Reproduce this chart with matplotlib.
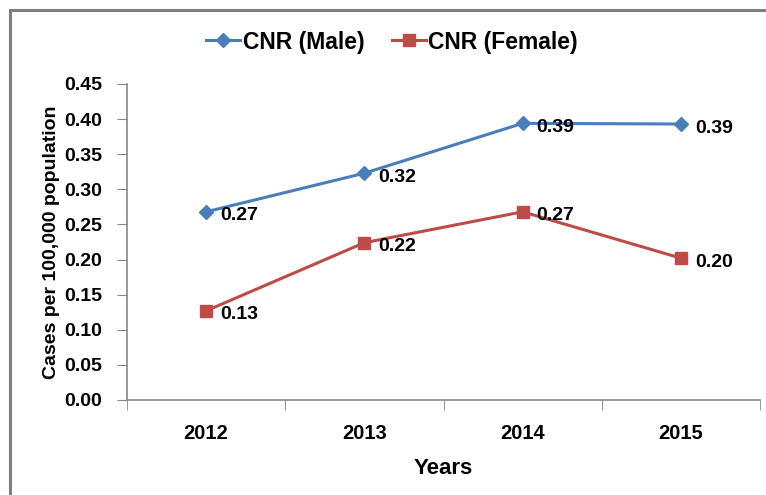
import matplotlib as mpl
mpl.use('Agg')
import matplotlib.pyplot as plt
from matplotlib.patches import Rectangle
import numpy as np

plt.rcParams['font.family'] = ['Liberation Sans', 'DejaVu Sans']
plt.rcParams['font.weight'] = 'bold'

years = ['2012', '2013', '2014', '2015']
male = [0.268, 0.323, 0.394, 0.393]
female = [0.127, 0.224, 0.268, 0.202]
male_lbl = ['0.27', '0.32', '0.39', '0.39']
female_lbl = ['0.13', '0.22', '0.27', '0.20']

W, H = 766, 495
fig = plt.figure(figsize=(W / 100, H / 100), dpi=100)
ax = fig.add_axes([127 / W, 1 - 400 / H, (760 - 127) / W, (400 - 84) / H])

# outer frame (only top and left visible in reference)
fig.patches.append(Rectangle((10 / W, -0.1), 1.2, (H - 10) / H + 0.1, transform=fig.transFigure,
                             fill=False, edgecolor='#7f7f7f', linewidth=2.2))

x = np.arange(len(years))
blue = '#4a7ebb'
red = '#be4b48'
ax.plot(x, male, color=blue, lw=2.2, marker='D', ms=7, label='CNR (Male)')
ax.plot(x, female, color=red, lw=2.2, marker='s', ms=8.5, label='CNR (Female)')

for xi, v, t in zip(x, male, male_lbl):
    ax.annotate(t, (xi, v), xytext=(10, -3), textcoords='offset points',
                ha='left', va='center', fontsize=14, fontweight='bold')
for xi, v, t in zip(x, female, female_lbl):
    ax.annotate(t, (xi, v), xytext=(10, -3), textcoords='offset points',
                ha='left', va='center', fontsize=14, fontweight='bold')

ax.set_xlim(-0.5, 3.5)
ax.set_ylim(0, 0.45)
ax.set_yticks(np.arange(0, 0.451, 0.05))
ax.set_yticklabels(['%.2f' % v for v in np.arange(0, 0.451, 0.05)], fontsize=14, fontweight='bold')
ax.set_xticks(x)
ax.set_xticklabels(years, fontsize=14.5, fontweight='bold')
ax.set_xticks(np.arange(-0.5, 3.6, 1), minor=True)
ax.tick_params(axis='x', which='major', length=0, pad=17)
ax.tick_params(axis='x', which='minor', length=7, color='#868686', direction='out')
ax.tick_params(axis='y', length=7, color='#868686', direction='out', pad=11)

for s in ['top', 'right']:
    ax.spines[s].set_visible(False)
for s in ['left', 'bottom']:
    ax.spines[s].set_color('#868686')
    ax.spines[s].set_linewidth(1.2)

ax.set_ylabel('Cases per 100,000 population', fontsize=14, fontweight='bold', labelpad=3)
ax.set_xlabel('Years', fontsize=16, fontweight='bold', labelpad=11)

fig.legend(loc='center', bbox_to_anchor=(0.5 + 9 / W, 1 - 42 / H), ncol=2, frameon=False,
           prop={'size': 16.5, 'weight': 'bold'}, handlelength=1.5, handletextpad=0.1,
           columnspacing=1.2)

plt.savefig('out.png', dpi=100)
